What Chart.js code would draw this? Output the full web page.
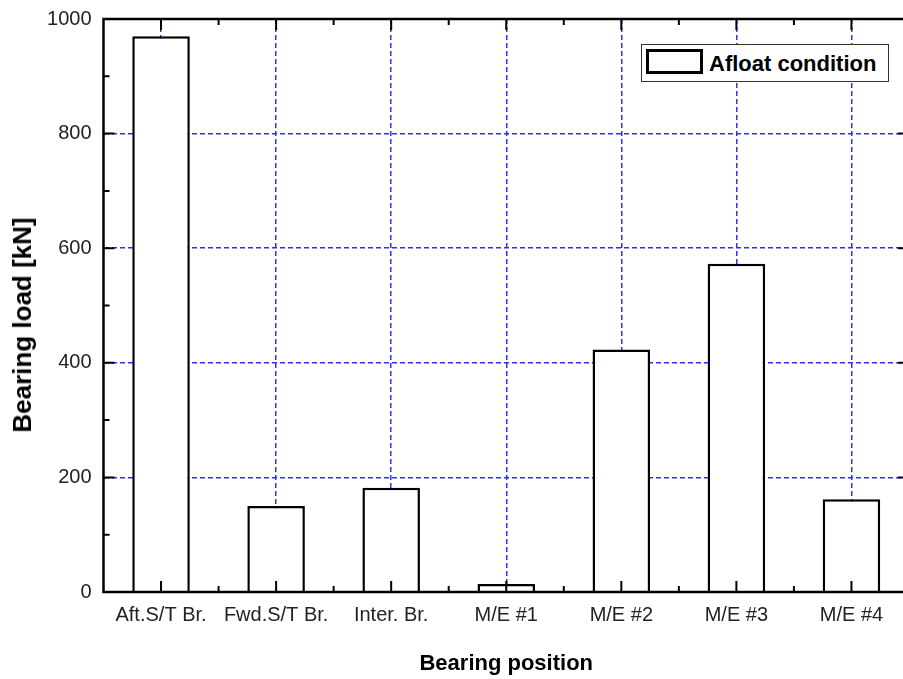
<!DOCTYPE html>
<html>
<head>
<meta charset="utf-8">
<title>Bearing load</title>
<script src="https://cdn.jsdelivr.net/npm/chart.js@4.4.1/dist/chart.umd.min.js"></script>
<style>
  html, body { margin: 0; padding: 0; background: #fff; overflow: hidden; }
  #wrap { position: relative; width: 903px; height: 679px; overflow: hidden; }
  canvas { position: absolute; left: 0; top: 0; }
  .ytitle {
    position: absolute; left: 22px; top: 325px;
    transform: translate(-50%, -50%) rotate(-90deg);
    font: bold 26px 'Liberation Sans', Arial, sans-serif;
    line-height: 26px; white-space: nowrap; color: #000;
  }
  .legend {
    position: absolute; left: 641px; top: 44px;
    width: 246px; height: 36px; border: 1px solid #333; background: #fff;
  }
  .legend .swatch {
    position: absolute; left: 4px; top: 4px;
    width: 51px; height: 19px; border: 3px solid #000;
  }
  .legend .label {
    position: absolute; left: 67px; top: 8px;
    font: bold 22px 'Liberation Sans', Arial, sans-serif;
    line-height: 22px; white-space: nowrap; color: #000;
  }
</style>
</head>
<body>
<div id="wrap">
  <canvas id="loadChart" width="912" height="679"></canvas>
  <div class="ytitle">Bearing load [kN]</div>
  <div class="legend"><span class="swatch"></span><span class="label">Afloat condition</span></div>
</div>
<script>
const positions = ['Aft.S/T Br.', 'Fwd.S/T Br.', 'Inter. Br.', 'M/E #1', 'M/E #2', 'M/E #3', 'M/E #4'];
const afloatLoad = [970, 150, 182, 14, 423, 573, 162];
const loadTicks = [0, 200, 400, 600, 800, 1000];

const gridBlue = '#2f2fff';

Chart.defaults.font.family = "'Liberation Sans', Arial, sans-serif";

// frame and inward tick marks, drawn over the bars
const frameTicks = {
    id: 'frameTicks',
    afterDatasetsDraw(chart) {
        const { ctx, chartArea: a, scales: { x, y } } = chart;
        ctx.save();
        ctx.strokeStyle = '#000';
        ctx.lineWidth = 2;
        ctx.setLineDash([]);
        ctx.beginPath();
        for (let i = 0; i < loadTicks.length; i++) {
            const py = y.getPixelForValue(loadTicks[i]);
            ctx.moveTo(a.left, py); ctx.lineTo(a.left + 11, py);
            ctx.moveTo(a.right, py); ctx.lineTo(a.right - 11, py);
            if (i < loadTicks.length - 1) {
                const my = y.getPixelForValue((loadTicks[i] + loadTicks[i + 1]) / 2);
                ctx.moveTo(a.left, my); ctx.lineTo(a.left + 6, my);
                ctx.moveTo(a.right, my); ctx.lineTo(a.right - 6, my);
            }
        }
        for (let i = 0; i < positions.length; i++) {
            const px = x.getPixelForValue(i);
            ctx.moveTo(px, a.bottom); ctx.lineTo(px, a.bottom - 11);
            ctx.moveTo(px, a.top); ctx.lineTo(px, a.top + 11);
            if (i < positions.length - 1) {
                const mx = (px + x.getPixelForValue(i + 1)) / 2;
                ctx.moveTo(mx, a.bottom); ctx.lineTo(mx, a.bottom - 6);
                ctx.moveTo(mx, a.top); ctx.lineTo(mx, a.top + 6);
            }
        }
        ctx.stroke();
        ctx.lineWidth = 2.5;
        ctx.strokeRect(a.left, a.top, a.right - a.left, a.bottom - a.top);
        ctx.restore();
    }
};

const ctx = document.getElementById('loadChart').getContext('2d');
new Chart(ctx, {
    type: 'bar',
    data: {
        labels: positions,
        datasets: [{
            label: 'Afloat condition',
            data: afloatLoad,
            backgroundColor: '#fff',
            borderColor: '#000',
            borderWidth: 2.5,
            barPercentage: 0.5,
            categoryPercentage: 1
        }]
    },
    options: {
        responsive: false,
        animation: false,
        layout: { padding: { top: 19, right: 3, left: 0, bottom: 0 } },
        plugins: {
            legend: { display: false },
            tooltip: { enabled: false }
        },
        scales: {
            x: {
                offset: true,
                grid: {
                    offset: false,
                    drawTicks: false,
                    color: gridBlue,
                    lineWidth: 1.5
                },
                border: { display: false, dash: [5, 3] },
                ticks: {
                    padding: 11,
                    color: '#222',
                    font: { size: 20 },
                    maxRotation: 0,
                    autoSkip: false
                },
                title: {
                    display: true,
                    text: 'Bearing position',
                    color: '#000',
                    font: { size: 22, weight: 'bold' },
                    padding: { top: 0, bottom: 2 }
                },
                afterFit: (scale) => {
                    scale.height = 87;
                    scale.paddingLeft = 0;
                    scale.paddingRight = 0;
                }
            },
            y: {
                min: 0,
                max: 1000,
                afterBuildTicks: (scale) => {
                    scale.ticks = loadTicks.map(v => ({ value: v }));
                },
                grid: {
                    drawTicks: false,
                    lineWidth: 1.5,
                    color: (c) => (c.tick && (c.tick.value === 0 || c.tick.value === 1000)) ? 'rgba(0,0,0,0)' : gridBlue
                },
                border: { display: false, dash: [5, 3] },
                ticks: {
                    padding: 12,
                    color: '#222',
                    font: { size: 20 },
                    callback: (v) => String(v)
                },
                afterFit: (scale) => {
                    scale.width = 103.5;
                    scale.paddingTop = 0;
                    scale.paddingBottom = 0;
                }
            }
        }
    },
    plugins: [frameTicks]
});
</script>
</body>
</html>
